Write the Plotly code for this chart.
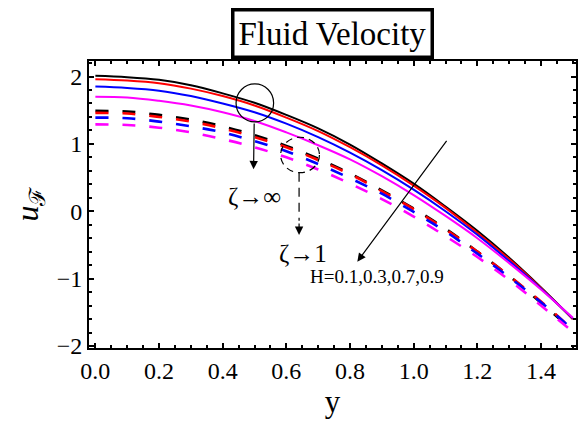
import plotly.graph_objects as go

# ---- data ----
y_pts = [0.0, 0.1, 0.2, 0.3, 0.4, 0.5, 0.6, 0.7, 0.8, 0.9, 1.0, 1.1, 1.2, 1.3, 1.4, 1.5]

H_values = ["0.1", "0.3", "0.7", "0.9"]

# zeta -> infinity (solid curves)
u_inf_H01 = [2.01, 1.99, 1.95, 1.87, 1.75, 1.61, 1.43, 1.23, 0.99, 0.71, 0.41, 0.07, -0.29, -0.69, -1.13, -1.60]
u_inf_H03 = [1.96, 1.94, 1.90, 1.82, 1.71, 1.57, 1.39, 1.19, 0.95, 0.68, 0.38, 0.05, -0.32, -0.71, -1.14, -1.60]
u_inf_H07 = [1.85, 1.83, 1.79, 1.71, 1.60, 1.47, 1.30, 1.10, 0.87, 0.61, 0.32, 0.00, -0.35, -0.74, -1.15, -1.59]
u_inf_H09 = [1.70, 1.69, 1.64, 1.57, 1.47, 1.34, 1.17, 0.98, 0.77, 0.52, 0.24, -0.07, -0.40, -0.77, -1.16, -1.58]

# zeta -> 1 (dashed curves)
u_one_H01 = [1.49, 1.48, 1.43, 1.36, 1.26, 1.13, 0.97, 0.78, 0.56, 0.31, 0.04, -0.26, -0.60, -0.96, -1.36, -1.77]
u_one_H03 = [1.46, 1.45, 1.40, 1.33, 1.23, 1.10, 0.95, 0.76, 0.55, 0.30, 0.03, -0.27, -0.60, -0.96, -1.34, -1.76]
u_one_H07 = [1.39, 1.38, 1.33, 1.26, 1.17, 1.04, 0.89, 0.70, 0.49, 0.26, -0.01, -0.30, -0.63, -0.98, -1.35, -1.76]
u_one_H09 = [1.29, 1.28, 1.24, 1.17, 1.07, 0.95, 0.80, 0.62, 0.41, 0.18, -0.08, -0.37, -0.68, -1.02, -1.40, -1.79]

x_ticks = [0.0, 0.2, 0.4, 0.6, 0.8, 1.0, 1.2, 1.4]
x_tick_labels = ["0.0", "0.2", "0.4", "0.6", "0.8", "1.0", "1.2", "1.4"]
y_ticks = [-2, -1, 0, 1, 2]
y_tick_labels = ["\u22122", "\u22121", "0", "1", "2"]

# ---- styles ----
colors = ["#000000", "#FF0000", "#0000FF", "#FF00FF"]
SERIF = "Liberation Serif"

fig = go.Figure()

solid_sets = [u_inf_H01, u_inf_H03, u_inf_H07, u_inf_H09]
dashed_sets = [u_one_H01, u_one_H03, u_one_H07, u_one_H09]

for vals, col, h in zip(solid_sets, colors, H_values):
    fig.add_trace(go.Scatter(x=y_pts, y=vals, mode="lines", name="ζ→∞, H=" + h,
                             line=dict(color=col, width=2, shape="spline", smoothing=1.0),
                             showlegend=False))
for vals, col, h in zip(dashed_sets, colors, H_values):
    fig.add_trace(go.Scatter(x=y_pts, y=vals, mode="lines", name="ζ→1, H=" + h,
                             line=dict(color=col, width=2.6, shape="spline", smoothing=1.0,
                                       dash="13px,14px"),
                             showlegend=False))

shapes = [
    # solid circle around zeta->inf curves
    dict(type="circle", xref="x", yref="y", x0=0.442, x1=0.560, y0=1.325, y1=1.889,
         line=dict(color="black", width=1.2)),
    # dashed circle around zeta->1 curves
    dict(type="circle", xref="x", yref="y", x0=0.582, x1=0.704, y0=0.572, y1=1.098,
         line=dict(color="black", width=1.2, dash="7px,5px")),
    # dashed arrow shaft
    dict(type="line", xref="x", yref="y", x0=0.640, x1=0.640, y0=0.572, y1=-0.14,
         line=dict(color="black", width=1.2, dash="9px,6px")),
]

annotations = [
    # title in box
    dict(text="Fluid Velocity", xref="paper", yref="paper", x=0.5, y=1.0975,
         xanchor="center", yanchor="middle", showarrow=False,
         font=dict(family=SERIF, size=33, color="black"),
         bordercolor="black", borderwidth=3.5, borderpad=4, bgcolor="white"),
    # solid arrow
    dict(x=0.497, y=0.623, ax=0.499, ay=1.325, xref="x", yref="y", axref="x", ayref="y",
         text="", showarrow=True, arrowhead=2, arrowsize=1.4, arrowwidth=1.2, arrowcolor="black"),
    dict(text="ζ→∞", x=0.500, y=0.217, xref="x", yref="y", showarrow=False,
         font=dict(family=SERIF, size=25, color="black")),
    # dashed arrow head
    dict(x=0.640, y=-0.352, ax=0.640, ay=-0.16, xref="x", yref="y", axref="x", ayref="y",
         text="", showarrow=True, arrowhead=2, arrowsize=1.4, arrowwidth=1.2, arrowcolor="black"),
    dict(text="ζ→1", x=0.651, y=-0.623, xref="x", yref="y", showarrow=False,
         font=dict(family=SERIF, size=25, color="black")),
    # long H arrow
    dict(x=0.823, y=-0.748, ax=1.107, ay=1.068, xref="x", yref="y", axref="x", ayref="y",
         text="", showarrow=True, arrowhead=2, arrowsize=1.4, arrowwidth=1.2, arrowcolor="black"),
    dict(text="H=" + ",".join(H_values), x=0.885, y=-0.970, xref="x", yref="y", showarrow=False,
         font=dict(family=SERIF, size=19, color="black")),
]

fig.update_layout(
    width=579, height=424,
    margin=dict(l=89, r=1, t=61, b=76),
    paper_bgcolor="white", plot_bgcolor="white",
    shapes=shapes, annotations=annotations,
    font=dict(family=SERIF, color="black"),
)

axis_common = dict(showline=True, linecolor="black", linewidth=2, mirror="ticks",
                   ticks="inside", ticklen=5, tickwidth=1.5, tickcolor="black",
                   showgrid=False, zeroline=False,
                   tickfont=dict(family=SERIF, size=24, color="black"))

fig.update_xaxes(range=[-0.02, 1.51], tickvals=x_ticks, ticktext=x_tick_labels,
                 minor=dict(dtick=0.05, tick0=0, ticks="inside", ticklen=3, tickwidth=1.5,
                            tickcolor="black", showgrid=False),
                 title=dict(text="y", font=dict(family=SERIF, size=31, color="black"), standoff=6),
                 **axis_common)
fig.update_yaxes(range=[-2.03, 2.23], tickvals=y_ticks, ticktext=y_tick_labels,
                 minor=dict(dtick=0.2, tick0=0, ticks="inside", ticklen=3, tickwidth=1.5,
                            tickcolor="black", showgrid=False),
                 title=dict(text="<i>u</i><sub>ℱ</sub>", font=dict(family=SERIF, size=32, color="black"),
                            standoff=8),
                 **axis_common)

fig.write_html("out.html")
